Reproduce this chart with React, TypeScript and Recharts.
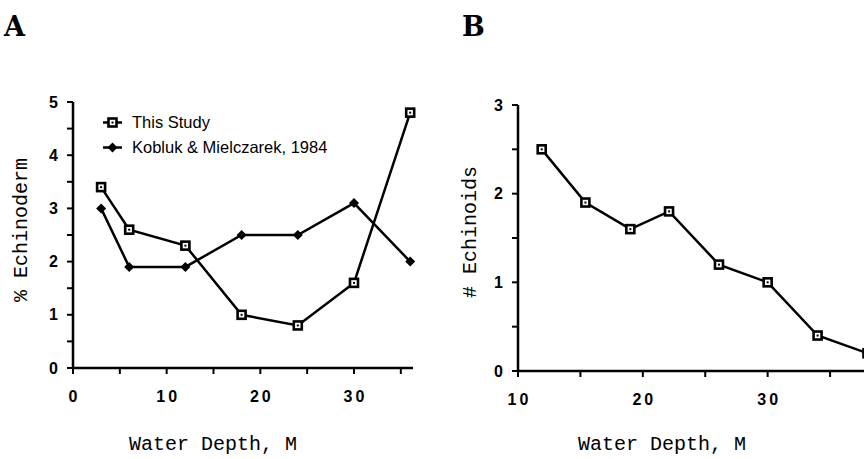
import React from "react";
import { LineChart, Line, XAxis, YAxis, Legend } from "recharts";

// Panel A: % echinoderm vs water depth
const depthA = [3, 6, 12, 18, 24, 30, 36];
const thisStudy = [3.4, 2.6, 2.3, 1.0, 0.8, 1.6, 4.8];
const kobluk = [3.0, 1.9, 1.9, 2.5, 2.5, 3.1, 2.0];

// Panel B: # echinoids vs water depth
const depthB = [11.9, 15.4, 19, 22.1, 26.1, 30, 34, 38];
const echinoids = [2.5, 1.9, 1.6, 1.8, 1.2, 1.0, 0.4, 0.2];

const xTicksA = [0, 5, 10, 15, 20, 25, 30, 35];
const yTicksA = [0, 0.5, 1, 1.5, 2, 2.5, 3, 3.5, 4, 4.5, 5];
const xTicksB = [10, 15, 20, 25, 30, 35];
const yTicksB = [0, 0.5, 1, 1.5, 2, 2.5, 3];

const dataA = depthA.map((d, i) => ({ depth: d, study: thisStudy[i], kobluk: kobluk[i] }));
const dataB = depthB.map((d, i) => ({ depth: d, count: echinoids[i] }));

const INK = "#000";
const SANS = "'Liberation Sans', Arial, Helvetica, sans-serif";
const MONO = "'Liberation Mono', 'Courier New', monospace";

const BottomTick = (props: any) => {
  const { x, y, payload } = props;
  const major = payload.value % 10 === 0;
  return (
    <g>
      <line x1={x} x2={x} y1={y} y2={y + 6} stroke={INK} strokeWidth={2} />
      {major && (
        <text x={x + 1.5} y={y + 34} textAnchor="middle" fontFamily={SANS} fontWeight="bold" fontSize={16} letterSpacing={3} fill={INK}>
          {payload.value}
        </text>
      )}
    </g>
  );
};

const LeftTick = (props: any) => {
  const { x, y, payload } = props;
  const major = Number.isInteger(payload.value);
  return (
    <g>
      <line x1={x} x2={x - 6} y1={y} y2={y} stroke={INK} strokeWidth={2} />
      {major && (
        <text x={x - 15} y={y + 5.5} textAnchor="end" fontFamily={SANS} fontWeight="bold" fontSize={16} fill={INK}>
          {payload.value}
        </text>
      )}
    </g>
  );
};

const SquareDot = (props: any) => {
  const { cx, cy } = props;
  if (cx == null || cy == null) return null;
  return (
    <g>
      <rect x={cx - 4} y={cy - 4} width={8} height={8} fill="#fff" stroke={INK} strokeWidth={2.6} />
      <rect x={cx - 1} y={cy - 1} width={2} height={2} fill={INK} />
    </g>
  );
};

const DiamondDot = (props: any) => {
  const { cx, cy } = props;
  if (cx == null || cy == null) return null;
  return <polygon points={`${cx},${cy - 5} ${cx + 5},${cy} ${cx},${cy + 5} ${cx - 5},${cy}`} fill={INK} />;
};

const xTitle = (dx: number, dy: number) => (props: any) => {
  const vb = props.viewBox;
  return (
    <text x={vb.x + vb.width / 2 + dx} y={vb.y + dy} textAnchor="middle" fontFamily={MONO} fontSize={20} fill={INK}>
      Water Depth, M
    </text>
  );
};

const yTitle = (text: string, dx: number, dy: number) => (props: any) => {
  const vb = props.viewBox;
  const cx = vb.x + dx;
  const cy = vb.y + vb.height / 2 + dy;
  return (
    <text x={cx} y={cy} transform={`rotate(-90, ${cx}, ${cy})`} textAnchor="middle" dominantBaseline="central" fontFamily={MONO} fontSize={20} fill={INK}>
      {text}
    </text>
  );
};

const LegendBox = () => (
  <div style={{ fontFamily: SANS, fontSize: 16.5, color: INK, lineHeight: "25px" }}>
    <div style={{ display: "flex", alignItems: "center" }}>
      <svg width={32} height={25}>
        <line x1={3} x2={22} y1={12.5} y2={12.5} stroke={INK} strokeWidth={2.5} />
        <SquareDot cx={12.5} cy={12.5} />
      </svg>
      <span>This Study</span>
    </div>
    <div style={{ display: "flex", alignItems: "center" }}>
      <svg width={32} height={25}>
        <line x1={3} x2={22} y1={12.5} y2={12.5} stroke={INK} strokeWidth={2.5} />
        <DiamondDot cx={12.5} cy={12.5} />
      </svg>
      <span>Kobluk &amp; Mielczarek, 1984</span>
    </div>
  </div>
);

const panelLetter: React.CSSProperties = {
  position: "absolute",
  fontFamily: "'DejaVu Serif', 'Liberation Serif', serif",
  fontWeight: "bold",
  fontSize: 27,
  lineHeight: "30px",
  color: INK,
};

export default function App() {
  return (
    <div style={{ position: "relative", width: 864, height: 459, overflow: "hidden", background: "#fff" }}>
      <style>{`body{margin:0}`}</style>
      <div style={{ ...panelLetter, left: 4, top: 12 }}>A</div>
      <div style={{ ...panelLetter, left: 462, top: 12 }}>B</div>

      <div style={{ position: "absolute", left: 0, top: 0 }}>
        <LineChart width={440} height={459} data={dataA} margin={{ top: 102, right: 27, bottom: 61, left: 0 }}>
          <XAxis
            dataKey="depth"
            type="number"
            domain={[0, 36.3]}
            ticks={xTicksA}
            interval={0}
            tick={<BottomTick />}
            tickLine={false}
            tickSize={0}
            tickMargin={0}
            height={30}
            axisLine={{ stroke: INK, strokeWidth: 2.5 }}
            label={{ content: xTitle(-30, 82) }}
          />
          <YAxis
            type="number"
            domain={[0, 5]}
            ticks={yTicksA}
            interval={0}
            tick={<LeftTick />}
            tickLine={false}
            tickSize={0}
            tickMargin={0}
            width={73}
            axisLine={{ stroke: INK, strokeWidth: 2.5 }}
            label={{ content: yTitle("% Echinoderm", 21, -5) }}
          />
          <Legend
            layout="vertical"
            align="center"
            verticalAlign="middle"
            content={<LegendBox />}
            wrapperStyle={{ left: 100, top: 110, width: 260 }}
          />
          <Line dataKey="study" stroke={INK} strokeWidth={2.5} dot={(p: any) => <SquareDot key={`s${p.index}`} {...p} />} isAnimationActive={false} />
          <Line dataKey="kobluk" stroke={INK} strokeWidth={2.5} dot={(p: any) => <DiamondDot key={`k${p.index}`} {...p} />} isAnimationActive={false} />
        </LineChart>
      </div>

      <div style={{ position: "absolute", left: 430, top: 0 }}>
        <LineChart width={450} height={459} data={dataB} margin={{ top: 105, right: 0, bottom: 58, left: 0 }}>
          <XAxis
            dataKey="depth"
            type="number"
            domain={[10, 39]}
            ticks={xTicksB}
            interval={0}
            tick={<BottomTick />}
            tickLine={false}
            tickSize={0}
            tickMargin={0}
            height={30}
            axisLine={{ stroke: INK, strokeWidth: 2.5 }}
            label={{ content: xTitle(-37, 79) }}
          />
          <YAxis
            type="number"
            domain={[0, 3]}
            ticks={yTicksB}
            interval={0}
            tick={<LeftTick />}
            tickLine={false}
            tickSize={0}
            tickMargin={0}
            width={88}
            axisLine={{ stroke: INK, strokeWidth: 2.5 }}
            label={{ content: yTitle("# Echinoids", 40, -6) }}
          />
          <Line dataKey="count" stroke={INK} strokeWidth={2.5} dot={(p: any) => <SquareDot key={`e${p.index}`} {...p} />} isAnimationActive={false} />
        </LineChart>
      </div>
    </div>
  );
}
